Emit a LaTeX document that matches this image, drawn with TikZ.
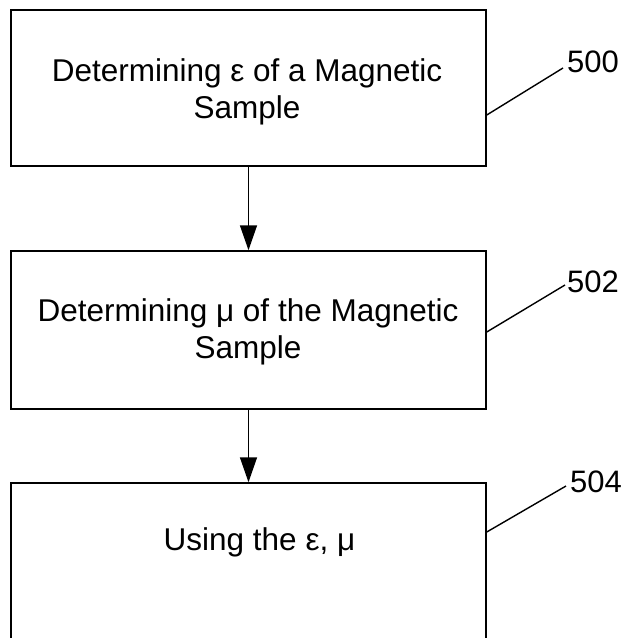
\documentclass[tikz,border=0pt]{standalone}
\usepackage{fontspec}
\setmainfont{Liberation Sans}
\usetikzlibrary{arrows.meta}
\begin{document}
\begin{tikzpicture}[x=1pt,y=-1pt,
  stepbox/.style={draw, line width=1.5pt, minimum width=475pt, inner sep=0pt},
  steptext/.style={inner sep=0pt, align=center, font=\fontsize{31.5}{37}\selectfont},
  flow/.style={line width=1.5pt, -{Triangle[length=25pt,width=17pt]}},
  leader/.style={line width=1.4pt},
  reflabel/.style={inner sep=0pt, anchor=base west, font=\fontsize{31}{37}\selectfont}]
  \useasboundingbox (0,0) rectangle (628,638);
  \clip (0,0) rectangle (628,638);
  % process steps
  \node[stepbox, minimum height=156pt] (b1) at (248.5,88) {};
  \node[stepbox, minimum height=158pt] (b2) at (248.5,330) {};
  \node[stepbox, minimum height=240pt] (b3) at (248.5,603) {};
  \node[steptext] (t1) at (247,91.5) {Determining ε of a Magnetic\\Sample};
  \node[steptext] (t2) at (248,332) {Determining μ of the Magnetic\\Sample};
  \node[steptext] (t3) at (259.5,542) {Using the ε, μ};
  % flow arrows
  \draw[flow] (b1.south) -- (b2.north);
  \draw[flow] (b2.south) -- (b3.north);
  % reference numerals
  \node[reflabel] (l500) at (567,72) {500};
  \node[reflabel] (l502) at (567,292) {502};
  \node[reflabel] (l504) at (570,492) {504};
  \coordinate (e500) at (563,68);
  \coordinate (e502) at (565,285);
  \coordinate (e504) at (566,486);
  \draw[leader] (b1.east |- 0,115) -- (e500);
  \draw[leader] (b2.east |- 0,332) -- (e502);
  \draw[leader] (b3.east |- 0,532) -- (e504);
\end{tikzpicture}
\end{document}
